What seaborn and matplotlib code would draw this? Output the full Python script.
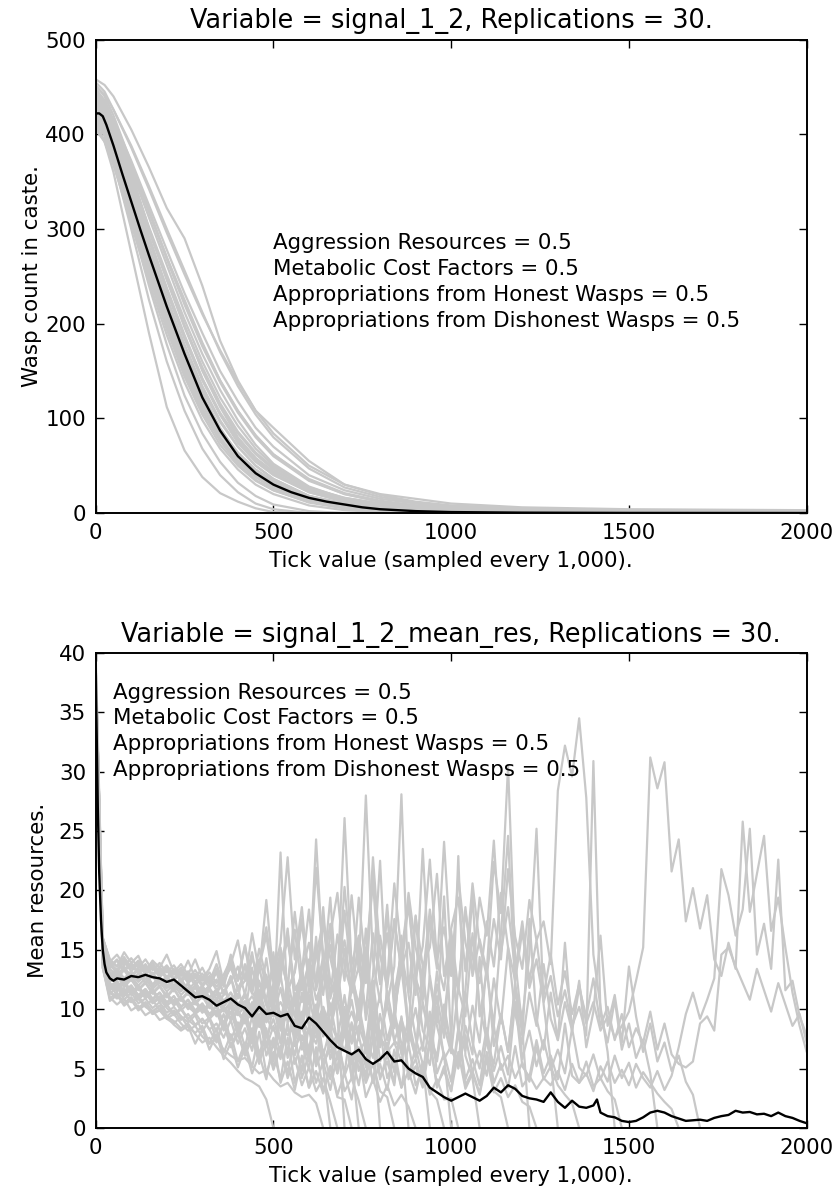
import matplotlib
matplotlib.use("Agg")
import matplotlib.pyplot as plt
import numpy as np
import pandas as pd
import seaborn as sns

# ---------------- top panel data: wasp count per replication ----------------
TOP_TICKS = [0, 25, 50, 100, 150, 200, 250, 300, 350, 400, 450, 500, 600, 700, 800, 900, 1000, 1200, 1500, 2000]

count_rep01 = [452, 440, 420, 370, 320, 270, 225, 180, 140, 108, 82, 62, 35, 20, 12, 8, 5, 3, 2, 1]
count_rep02 = [445, 432, 410, 360, 300, 248, 198, 150, 112, 80, 58, 42, 22, 12, 7, 4, 2, 1, 0, 0]
count_rep03 = [430, 418, 395, 340, 280, 225, 172, 126, 90, 62, 44, 30, 14, 6, 3, 1, 0, 0, 0, 0]
count_rep04 = [420, 404, 376, 308, 240, 178, 124, 84, 54, 32, 18, 9, 2, 0, 0, 0, 0, 0, 0, 0]
count_rep05 = [410, 392, 360, 275, 190, 112, 66, 38, 21, 12, 5, 1, 0, 0, 0, 0, 0, 0, 0, 0]
count_rep06 = [458, 452, 440, 405, 365, 322, 290, 240, 182, 140, 108, 90, 55, 30, 20, 15, 10, 6, 4, 3]
count_rep07 = [440, 428, 408, 362, 312, 262, 212, 168, 130, 98, 72, 52, 28, 15, 8, 5, 3, 1, 0, 0]
count_rep08 = [425, 412, 388, 332, 272, 215, 165, 122, 88, 62, 44, 32, 16, 8, 4, 2, 1, 0, 0, 0]
count_rep09 = [435, 420, 398, 348, 292, 238, 188, 142, 104, 74, 54, 40, 22, 12, 7, 4, 2, 1, 0, 0]
count_rep10 = [415, 400, 375, 315, 255, 200, 150, 108, 76, 52, 35, 24, 11, 5, 2, 1, 0, 0, 0, 0]
count_rep11 = [448, 436, 415, 372, 325, 278, 232, 190, 150, 118, 90, 70, 40, 24, 15, 10, 6, 3, 1, 0]
count_rep12 = [428, 414, 390, 335, 276, 222, 172, 130, 96, 70, 50, 36, 18, 9, 5, 3, 1, 0, 0, 0]
count_rep13 = [405, 392, 368, 310, 250, 196, 148, 108, 78, 55, 38, 26, 12, 5, 2, 1, 0, 0, 0, 0]
count_rep14 = [438, 425, 404, 356, 302, 252, 204, 160, 122, 92, 68, 50, 26, 14, 8, 5, 3, 1, 0, 0]
count_rep15 = [422, 408, 384, 326, 266, 210, 160, 118, 84, 60, 42, 30, 15, 7, 3, 1, 0, 0, 0, 0]
count_rep16 = [450, 442, 426, 388, 345, 300, 256, 212, 170, 134, 104, 80, 47, 27, 17, 11, 7, 4, 2, 1]
count_rep17 = [418, 402, 372, 300, 225, 160, 108, 68, 40, 22, 10, 4, 0, 0, 0, 0, 0, 0, 0, 0]
count_rep18 = [432, 418, 396, 344, 288, 234, 184, 140, 104, 76, 56, 42, 24, 14, 9, 6, 4, 2, 1, 0]
count_rep19 = [442, 430, 410, 366, 318, 270, 222, 178, 140, 108, 82, 62, 36, 21, 13, 8, 5, 2, 1, 0]
count_rep20 = [412, 398, 372, 312, 250, 194, 144, 104, 72, 50, 34, 24, 12, 6, 3, 2, 1, 0, 0, 0]
count_rep21 = [426, 412, 390, 338, 282, 228, 178, 134, 98, 70, 50, 36, 18, 10, 6, 4, 2, 1, 0, 0]
count_rep22 = [436, 424, 402, 352, 298, 246, 196, 152, 114, 84, 62, 46, 25, 14, 8, 5, 3, 1, 0, 0]
count_rep23 = [408, 394, 368, 306, 244, 188, 138, 98, 68, 46, 30, 20, 8, 3, 1, 0, 0, 0, 0, 0]
count_rep24 = [446, 434, 414, 368, 318, 268, 220, 176, 138, 106, 80, 60, 34, 20, 12, 7, 4, 2, 1, 0]
count_rep25 = [418, 404, 380, 322, 262, 206, 156, 114, 80, 56, 40, 28, 14, 7, 4, 2, 1, 0, 0, 0]
count_rep26 = [432, 420, 398, 346, 290, 236, 186, 142, 106, 78, 58, 44, 26, 16, 10, 7, 5, 3, 2, 1]
count_rep27 = [424, 410, 386, 330, 270, 214, 164, 122, 88, 64, 46, 34, 18, 10, 6, 4, 2, 1, 0, 0]
count_rep28 = [440, 426, 404, 354, 300, 248, 198, 154, 116, 86, 64, 48, 27, 16, 10, 6, 4, 2, 1, 0]
count_rep29 = [414, 400, 376, 318, 258, 202, 152, 110, 78, 55, 38, 27, 13, 6, 3, 2, 1, 0, 0, 0]
count_rep30 = [455, 445, 426, 386, 342, 296, 252, 210, 172, 138, 108, 84, 50, 30, 19, 12, 8, 5, 3, 2]

MEAN_COUNT_TICKS = [0, 10, 20, 30, 50, 75, 100, 125, 150, 175, 200, 250, 300, 350, 400, 450, 500,
                    550, 600, 650, 700, 750, 800, 900, 1000, 1200, 1500, 2000]
MEAN_COUNT = [422, 422, 419, 410, 388, 358, 329, 300, 272, 245, 218, 168, 122, 87, 60, 42, 30,
              22, 16, 12, 9, 6, 4, 2, 1, 0.4, 0.1, 0]

# ---------------- bottom panel data: mean resources per replication ----------------
RES_TICKS = list(range(0, 2001, 20))

res_rep01 = [37, 14, 11.5, 11, 11.8, 10.6, 10.9, 10.2, 9.8, 10.3, 9.4, 9, 8.4, 8.8, 7.9, 7.2, 7.6, 6.8, 6.1, 5.5, 4.8, 4.2, 3.9, 3.5, 2.4, 0]
res_rep02 = [38, 15, 12, 11.2, 10.5, 11, 10.1, 10.4, 9.6, 9.9, 9.2, 9.6, 8.8, 8.2, 8.6, 7.7, 7.1, 7.5, 6.6, 6.1, 5.7, 5.9, 5.2, 4.6, 4.9, 4.1, 3.5, 3.8, 3.0, 2.6, 2.8, 2.1, 0]
res_rep03 = [39, 15.5, 13, 12.6, 13.4, 12.8, 13.5, 12.2, 12.9, 12.4, 11.8, 12.5, 11.6, 12.1, 11, 11.7, 10.6, 11.3, 12.4, 10.2, 11.8, 9.6, 13.5, 10.4, 9.2, 14.8, 8.6, 11.9, 7.4, 9.8, 6.2, 8.4, 5.1, 0]
res_rep04 = [37, 14.5, 11.8, 12.3, 11.1, 11.7, 10.8, 11.4, 10.5, 10.9, 10.1, 9.5, 10, 9.1, 8.6, 9.2, 8.3, 7.2, 8.9, 6.8, 7.9, 6.1, 8.4, 5.6, 7.2, 4.9, 6.8, 4.2, 5.9, 3.6, 5.1, 3.1, 4.2, 2.2, 0]
res_rep05 = [40, 16, 14.2, 13.6, 14.8, 13.9, 14.5, 13.2, 14.1, 13.5, 14.6, 13.1, 13.8, 12.9, 14.2, 12.6, 13.4, 14.9, 12.2, 13.8, 15.8, 12.4, 16.4, 13.1, 19.2, 12.8, 15.6, 22.8, 14.2, 18.6, 11.9, 24.3, 13.5, 17.2, 9.4, 0]
res_rep06 = [36, 13.5, 11, 10.4, 10.9, 9.9, 10.3, 9.5, 9.9, 9.1, 9.4, 8.7, 8.2, 8.6, 7.1, 8.3, 6.6, 7.9, 5.8, 7.2, 5.1, 6.8, 4.6, 6.2, 4.1, 7.4, 3.8, 5.6, 3.2, 6.1, 3.4, 4.8, 2.9, 5.2, 2.6, 2.4, 0]
res_rep07 = [38, 15, 12.6, 13.1, 12.2, 12.9, 12.4, 13.2, 11.9, 12.6, 12.1, 11.5, 12.3, 11.2, 11.8, 10.9, 11.6, 10.4, 11.2, 12.8, 10.1, 11.4, 9.8, 13.6, 10.6, 9.4, 23.2, 10.2, 8.8, 12.6, 9.3, 16.1, 8.4, 10.5, 7.2, 8.6, 5.8, 0]
res_rep08 = [37, 14, 11.3, 11.9, 10.8, 11.4, 10.5, 10.9, 10.1, 10.6, 9.7, 10.2, 9.4, 8.9, 9.5, 8.1, 9.2, 7.4, 8.8, 6.9, 8.2, 6.1, 7.6, 5.4, 8.4, 5.1, 6.9, 4.6, 7.8, 4.2, 6.3, 3.8, 5.6, 3.2, 6.4, 3.1, 4.2, 2.3, 0]
res_rep09 = [39, 15.5, 13.4, 12.8, 13.6, 12.7, 13.3, 12.5, 13.1, 12.2, 12.8, 11.9, 12.6, 11.6, 12.3, 11.4, 12, 13.1, 11.2, 12.7, 10.9, 13.8, 11.4, 10.6, 14.3, 10.2, 12.6, 16.8, 10.4, 13.2, 18.4, 11.6, 14.4, 9.8, 12.2, 26.1, 13.5, 9.6, 15.2, 7.8, 0]
res_rep10 = [38, 14.5, 12.1, 11.6, 12.4, 11.3, 11.9, 11.1, 11.6, 10.8, 11.3, 10.5, 11, 10.2, 9.7, 10.4, 9.1, 10.6, 8.6, 9.8, 7.9, 10.2, 7.4, 9.1, 6.8, 10.6, 7.2, 8.4, 6.1, 9.2, 5.6, 8.8, 5.1, 7.4, 4.6, 9.6, 4.2, 6.8, 3.8, 5.4, 3.1, 2.6, 0]
res_rep11 = [39, 16, 14, 14.6, 13.7, 14.3, 13.5, 14.2, 13.3, 13.9, 13.1, 13.7, 12.8, 14.1, 12.6, 13.5, 12.3, 13.8, 12.1, 14.6, 12.4, 15.3, 11.8, 13.6, 16.2, 12.2, 14.8, 11.6, 13.2, 17.4, 12.1, 21.9, 14.6, 11.2, 16.3, 12.4, 19.6, 13.2, 28.0, 14.1, 10.6, 18.2, 9.8, 7.1, 0]
res_rep12 = [36, 13.5, 10.7, 11.2, 10.3, 10.8, 9.9, 10.4, 9.6, 10, 9.2, 8.8, 9.4, 8.5, 8, 8.6, 7.1, 8.4, 6.3, 7.9, 5.6, 7.2, 5.1, 8.1, 4.6, 6.4, 4.1, 7.6, 3.8, 5.9, 3.4, 6.8, 3.1, 5.2, 2.8, 4.6, 2.4, 6.2, 2.6, 4.1, 2.2, 3.6, 1.9, 2.8, 1.8, 0]
res_rep13 = [38, 15, 12.8, 13.3, 12.5, 13.1, 12.3, 12.9, 12, 12.6, 11.8, 12.4, 11.5, 12.1, 11.2, 11.9, 10.9, 11.6, 10.5, 11.4, 10.2, 11.1, 9.8, 12.4, 10.3, 9.4, 11.8, 8.9, 10.6, 13.2, 9.5, 8.6, 12.9, 19.4, 10.8, 8.2, 11.6, 15.4, 9.1, 12.8, 22.5, 10.4, 13.6, 28.1, 11.2, 7.6, 5.4, 0]
res_rep14 = [37, 14.5, 11.9, 12.4, 11.5, 12, 11.2, 11.7, 10.9, 11.4, 10.6, 11.1, 10.2, 10.8, 9.8, 10.3, 9.5, 9.9, 8.6, 10.4, 8.1, 9.6, 7.4, 10.8, 7.9, 6.8, 9.4, 6.2, 11.2, 6.6, 8.4, 5.4, 9.8, 5.8, 7.6, 4.6, 8.9, 4.8, 6.6, 3.9, 8.2, 4.2, 5.8, 3.4, 7.1, 3.6, 4.9, 3.1, 2.4, 0]
res_rep15 = [39, 15.5, 13.7, 13.1, 14, 13.2, 13.8, 12.9, 13.5, 12.7, 13.3, 12.4, 13.1, 12.2, 12.8, 11.9, 12.6, 11.6, 12.4, 13.5, 11.8, 12.9, 11.3, 14.2, 12.1, 10.9, 13.4, 15.8, 11.6, 12.8, 10.4, 14.6, 17.2, 12.3, 10.8, 15.1, 11.4, 13.6, 9.8, 16.4, 12.2, 18.8, 10.6, 13.4, 15.6, 11.2, 23.5, 12.4, 8.6, 6.2, 0]
res_rep16 = [37, 14, 11.4, 10.9, 11.6, 10.6, 11.1, 10.3, 10.8, 9.9, 10.4, 9.6, 10.1, 9.2, 9.7, 8.8, 9.3, 8.1, 9.6, 7.4, 8.9, 6.8, 9.4, 6.2, 8.1, 5.6, 9.8, 5.9, 7.4, 4.8, 8.6, 5.2, 6.6, 4.1, 7.8, 4.4, 6.1, 3.6, 7.2, 3.8, 5.4, 3.2, 6.6, 3.4, 4.8, 2.9, 5.6, 2.8, 4.1, 2.4, 2.5, 0]
res_rep17 = [38, 15, 12.5, 13, 12.2, 12.8, 12, 12.6, 11.7, 12.3, 11.5, 12.1, 11.2, 11.8, 10.9, 11.5, 10.6, 11.3, 10.2, 11, 9.9, 10.7, 9.5, 10.4, 12.6, 9.8, 8.9, 11.2, 9.4, 13.8, 8.6, 10.2, 7.9, 9.6, 12.4, 8.2, 10.8, 7.4, 14.6, 9.1, 6.8, 11.5, 8.4, 16.2, 7.6, 10.1, 6.5, 12.8, 8.9, 19.5, 7.2, 22.9, 6.1, 4.2, 0]
res_rep18 = [37, 14, 11.6, 12.1, 11.2, 11.8, 10.9, 11.5, 10.6, 11.1, 10.3, 10.8, 9.9, 10.5, 9.6, 10.1, 9.2, 9.8, 8.2, 10.4, 7.8, 9.2, 7.1, 10.6, 6.8, 8.6, 6.2, 11.4, 6.9, 7.8, 5.6, 9.6, 5.1, 7.2, 4.8, 10.2, 5.4, 6.6, 4.4, 8.8, 4.1, 6.2, 3.8, 9.4, 4.6, 5.8, 3.6, 7.6, 3.4, 5.2, 3.1, 8.2, 3.6, 4.8, 2.9, 6.4, 3.1, 2.6, 0]
res_rep19 = [39, 16, 14.1, 13.6, 14.4, 13.5, 14.1, 13.3, 13.9, 13.1, 13.7, 12.9, 13.5, 12.6, 13.3, 12.4, 13.1, 12.2, 12.9, 14.2, 12.4, 13.6, 11.9, 15.1, 12.6, 11.4, 14.3, 12.1, 16.7, 11.6, 13.9, 10.8, 12.6, 15.4, 11.2, 18.3, 12.8, 10.4, 14.6, 20.8, 12.1, 16.4, 11.3, 14.8, 19.2, 12.6, 10.8, 17.5, 13.4, 24.1, 14.2, 11.6, 18.6, 12.8, 15.9, 13.2, 22.4, 18.1, 30.5, 14.2, 8.4, 0]
res_rep20 = [36, 13.5, 10.9, 11.4, 10.5, 11, 10.1, 10.6, 9.8, 10.3, 9.4, 9.9, 9.1, 9.6, 8.7, 9.2, 8.3, 8.8, 7.6, 9.1, 7.1, 8.4, 6.5, 9.6, 6.1, 7.6, 5.8, 8.9, 5.4, 7.2, 4.9, 10.1, 5.6, 6.6, 4.6, 8.2, 4.2, 6.1, 3.9, 7.6, 4.3, 5.6, 3.6, 9.2, 4.1, 5.2, 3.4, 7.1, 3.7, 4.8, 3.1, 6.4, 3.3, 4.6, 2.8, 5.8, 3, 4.2, 2.6, 3.6, 2.2, 1.8, 0]
res_rep21 = [38, 15, 12.9, 13.4, 12.6, 13.2, 12.4, 13, 12.1, 12.7, 11.9, 12.5, 11.6, 12.2, 11.3, 12, 11, 11.7, 10.7, 11.4, 10.4, 11.2, 10, 11.6, 9.6, 10.8, 12.9, 9.2, 10.5, 8.8, 11.8, 9.6, 14.2, 8.4, 10.9, 7.9, 12.6, 9.1, 16.8, 8.6, 11.2, 7.4, 9.8, 13.5, 8.2, 17.9, 10.4, 7.6, 12.1, 9.3, 14.8, 8.1, 11.6, 19.6, 9.4, 13.2, 8.6, 16.4, 24.6, 11.8, 9.2, 14.6, 25.2, 10.4, 5.6, 0]
res_rep22 = [37, 14.5, 12.2, 11.7, 12.5, 11.4, 12, 11.1, 11.7, 10.8, 11.4, 10.5, 11.1, 10.2, 10.8, 9.9, 10.5, 9.6, 10.2, 9.3, 9.9, 9, 9.6, 8.6, 9.3, 8.2, 8.9, 7.8, 8.6, 7.4, 8.3, 7.1, 9.4, 6.8, 7.9, 6.5, 8.8, 6.2, 7.5, 5.9, 9.6, 6.4, 7.2, 5.6, 8.4, 6, 7, 5.3, 10.2, 5.8, 6.9, 5, 7.8, 4.7, 6.5, 4.4, 8.6, 4.9, 6.1, 4.2, 5.5, 3.9, 6.8, 4.1, 5.2, 3.6, 2.8, 2.1, 0]
res_rep23 = [39, 15.5, 13.5, 14.1, 13.2, 13.8, 13, 13.6, 12.8, 13.4, 12.5, 13.2, 12.3, 12.9, 12, 12.7, 11.8, 12.5, 11.5, 12.3, 13.6, 11.2, 14.4, 12.1, 10.8, 13.7, 15.2, 11.6, 13.1, 17.6, 12.4, 14.9, 11.2, 16.3, 19.8, 13.6, 11.4, 15.8, 12.2, 21.4, 14.6, 11.8, 17.2, 13.4, 18.9, 12.6, 15.3, 22.6, 14.1, 11.6, 16.8, 19.4, 13.2, 20.6, 15.4, 12.8, 17.6, 14.2, 21.8, 16.1, 13.4, 19.2, 15.8, 17.4, 13.8, 28.4, 32.2, 29.6, 34.5, 27.8, 14.6, 10.2, 6.4, 0]
res_rep24 = [38, 14.5, 12.3, 12.8, 11.9, 12.5, 11.6, 12.2, 11.3, 11.9, 11, 11.7, 10.7, 11.4, 10.4, 11.1, 10.1, 10.8, 9.8, 10.5, 9.5, 10.3, 9.2, 10, 8.9, 9.7, 8.6, 9.5, 8.3, 9.2, 8, 10.4, 7.7, 8.9, 7.4, 11.2, 7.1, 8.6, 6.8, 12.4, 7.6, 6.5, 9.4, 6.2, 8.2, 5.9, 13.6, 7.4, 5.6, 9.8, 6.6, 5.3, 11.4, 7.2, 5, 8.4, 4.8, 6.9, 4.5, 10.6, 5.2, 4.3, 7.4, 4.6, 6.1, 4.1, 8.8, 4.4, 3.8, 5.6, 3.5, 4.2, 3.1, 2.4, 0]
res_rep25 = [39, 16, 13.9, 13.3, 14.2, 13.4, 14, 13.1, 13.7, 12.9, 13.5, 12.6, 13.3, 12.4, 13, 12.1, 12.8, 11.9, 12.6, 13.9, 11.6, 12.4, 14.8, 11.3, 12.9, 10.8, 13.6, 16.4, 11.9, 10.6, 14.2, 12.1, 18.6, 10.9, 13.4, 15.8, 11.6, 19.4, 13.2, 10.8, 16.2, 12.4, 20.6, 14.8, 11.4, 17.8, 13.6, 15.2, 21.4, 12.8, 16.6, 11.6, 18.2, 14.4, 12.2, 17.4, 13.6, 19.8, 15.2, 12.4, 16.6, 11.8, 14.2, 10.6, 12.8, 9.4, 11.6, 8.6, 10.2, 7.8, 30.9, 9.6, 7.2, 10.8, 6.6, 8.8, 5.9, 7.4, 4.6, 0]
res_rep26 = [37, 14, 11.8, 12.3, 11.4, 12, 11.1, 11.7, 10.8, 11.4, 10.5, 11.1, 10.2, 10.8, 9.9, 10.5, 9.6, 10.2, 8.8, 10.6, 8.4, 9.8, 7.9, 10.9, 7.6, 9.2, 7.1, 11.6, 7.4, 8.6, 6.6, 10.2, 6.1, 8.4, 5.8, 9.6, 5.4, 7.8, 5.1, 10.8, 5.6, 7.2, 4.7, 8.9, 4.4, 6.8, 4.2, 9.8, 4.6, 6.3, 3.9, 8.4, 4.1, 5.8, 3.6, 7.6, 3.8, 5.4, 3.4, 6.9, 3.5, 4.4, 3.3, 4.2, 3.6, 4.8, 3.2, 5.4, 3.8, 4.6, 3.1, 5.2, 3.9, 6.1, 4.2, 5.5, 3.4, 4.7, 3.8, 2.9, 2.2, 1.6, 0]
res_rep27 = [38, 15, 13.1, 12.6, 13.3, 12.4, 13, 12.2, 12.8, 11.9, 12.5, 11.7, 12.3, 11.4, 12, 11.2, 11.8, 10.9, 11.6, 10.6, 11.3, 10.3, 11.1, 10, 12.2, 9.7, 10.6, 9.4, 11.4, 9.1, 13.2, 8.8, 10.2, 8.5, 12.6, 8.2, 9.8, 7.9, 14.1, 8.4, 7.6, 10.4, 7.3, 9.2, 7.1, 12.8, 8.2, 6.8, 11.1, 7.6, 16.2, 8.4, 6.5, 10.3, 7.2, 13.8, 6.9, 9.6, 6.4, 12.2, 7.8, 17.6, 9.2, 6.6, 11.4, 7.4, 15.6, 8.2, 12.4, 6.8, 9.8, 16.2, 8.6, 11.2, 7.2, 13.6, 9.4, 6.4, 8.8, 5.6, 7.2, 4.8, 6.1, 3.9, 2.8, 0]
res_rep28 = [39, 15.5, 13.6, 14.2, 13.3, 13.9, 13.1, 13.8, 12.9, 13.6, 12.7, 13.4, 12.5, 13.2, 12.3, 13, 12.1, 13.4, 11.9, 14.1, 12.6,
             15.4, 12.1, 13.8, 16.9, 12.4, 14.6, 11.8, 18.2, 13.1, 15.6, 12.2, 17.4, 14.3, 11.6, 20.3, 13.8, 16.2, 12.4, 22.8, 14.6,
             12.1, 17.6, 13.4, 19.8, 15.2, 12.6, 18.4, 14.1, 16.9, 12.8, 21.2, 15.6, 13.1, 19.4, 16.2, 24.2, 14.8, 18.6, 13.2, 17.4,
             12.4, 15.8, 11.2, 14.6, 10.4, 13.2, 9.6, 12.1, 8.8, 10.6, 8.2, 9.4, 7.6, 8.6, 9.8, 12.4, 15.2, 31.2, 28.6, 30.8,
             21.6, 24.3, 17.4, 20.2, 16.8, 19.6, 14.2, 12.8, 15.6, 13.4, 25.8, 18.2, 21.4, 24.6, 16.6, 19.4, 15.2, 11.4, 8.6, 6.4]
res_rep29 = [38, 14.5, 12.4, 12.9, 12, 12.6, 11.7, 12.3, 11.4, 12, 11.1, 11.8, 10.8, 11.5, 10.5, 11.2, 10.2, 10.9, 9.9, 10.6, 9.6,
             10.3, 9.3, 11.4, 9, 10.2, 8.7, 12.6, 9.4, 8.4, 11.2, 8.1, 9.6, 7.8, 13.4, 8.6, 7.5, 10.4, 7.2, 9.8, 6.9,
             11.6, 7.4, 6.6, 9.2, 6.3, 12.8, 7.8, 6, 10.4, 6.8, 5.7, 8.6, 6.2, 14.4, 7.1, 5.4, 9.6, 6.4, 11.8, 5.8,
             8.2, 5.2, 7.4, 4.9, 6.6, 4.6, 8.4, 5.1, 4.4, 6.2, 4.1, 5.6, 3.8, 4.9, 3.6, 5.4, 4.2, 3.4, 4.8, 3.2,
             4.4, 6.8, 9.6, 11.4, 9.2, 10.8, 12.6, 21.8, 19.6, 16.2, 18.4, 25.2, 14.6, 17.2, 13.4, 22.6, 11.6, 12.4, 9.4, 7.8]
res_rep30 = [37, 14, 12, 11.5, 12.2, 11.2, 11.8, 10.9, 11.5, 10.6, 11.2, 10.3, 10.9, 10, 10.6, 9.7, 10.3, 9.4, 10, 9.1, 9.7,
             8.8, 10.6, 8.5, 9.4, 12.2, 8.2, 9.8, 7.9, 11.4, 8.6, 7.6, 10.2, 7.4, 12.8, 8.8, 7.2, 9.6, 6.9, 11.4, 7.6,
             6.7, 9.2, 14.6, 8.4, 6.5, 10.6, 7.8, 13.2, 8.6, 6.3, 11.8, 9.4, 16.4, 10.2, 7.4, 12.6, 8.8, 15.2, 9.6, 7.1,
             11.4, 8.6, 13.8, 9.2, 7.4, 10.6, 8.2, 11.8, 9.4, 12.6, 8.6, 10.2, 7.4, 9.6, 6.8, 8.4, 7.2, 9.8, 6.6, 8.8,
             6.2, 5.4, 5.1, 5.6, 8.8, 9.4, 8.2, 14.6, 15.2, 13.6, 12.2, 10.8, 13.4, 11.6, 9.8, 12.2, 10.4, 8.6, 9.6, 7.2]

MEAN_RES_TICKS = [0, 3, 6, 10, 15, 20, 25, 30, 40, 50, 60, 80, 100, 120, 140, 160, 180, 200, 220, 240, 260, 280,
                  300, 320, 340, 360, 380, 400, 420, 440, 460, 480, 500, 520, 540, 560, 580, 600, 620, 640, 660,
                  680, 700, 720, 740, 760, 780, 800, 820, 840, 860, 880, 900, 920, 940, 960, 980, 1000, 1020,
                  1040, 1060, 1080, 1100, 1120, 1140, 1160, 1180, 1200, 1220, 1240, 1260, 1280, 1300, 1320, 1340,
                  1360, 1380, 1400, 1410, 1420, 1440, 1460, 1480, 1500, 1520, 1540, 1560, 1580, 1600, 1620, 1640,
                  1660, 1680, 1700, 1720, 1740, 1760, 1780, 1800, 1820, 1840, 1860, 1880, 1900, 1920, 1940, 1960,
                  1980, 2000]
MEAN_RES = [38.5, 33, 27, 21.5, 17.5, 15, 13.8, 13.1, 12.6, 12.4, 12.6, 12.5, 12.8, 12.7, 12.9, 12.7, 12.6, 12.3,
            12.5, 12.0, 11.5, 11.0, 11.1, 10.8, 10.3, 10.6, 10.9, 10.4, 10.1, 9.4, 10.2, 9.6, 9.7, 9.4, 9.6, 8.6,
            8.4, 9.3, 8.8, 8.1, 7.4, 6.8, 6.5, 6.2, 6.6, 5.8, 5.4, 5.8, 6.4, 5.6, 5.7, 5.0, 4.6, 4.3, 3.4, 3.0,
            2.6, 2.3, 2.6, 2.9, 2.6, 2.3, 2.7, 3.4, 3.0, 3.6, 3.3, 2.7, 2.5, 2.4, 2.2, 3.0, 2.2, 1.7, 2.3, 1.8,
            1.7, 1.9, 2.4, 1.3, 1.0, 0.9, 0.6, 0.5, 0.6, 0.9, 1.3, 1.45, 1.3, 1.0, 0.8, 0.6, 0.65, 0.7, 0.6, 0.85,
            1.0, 1.1, 1.45, 1.3, 1.35, 1.15, 1.2, 1.0, 1.3, 1.0, 0.85, 0.6, 0.4]

PARAM_TEXT = ["Aggression Resources = 0.5", "Metabolic Cost Factors = 0.5",
              "Appropriations from Honest Wasps = 0.5", "Appropriations from Dishonest Wasps = 0.5"]
TOP_TITLE = "Variable = signal_1_2, Replications = 30."
BOTTOM_TITLE = "Variable = signal_1_2_mean_res, Replications = 30."
X_LABEL = "Tick value (sampled every 1,000)."
TOP_YLABEL = "Wasp count in caste."
BOTTOM_YLABEL = "Mean resources."

# ---------------- assemble ----------------
count_reps = [count_rep01, count_rep02, count_rep03, count_rep04, count_rep05, count_rep06, count_rep07,
              count_rep08, count_rep09, count_rep10, count_rep11, count_rep12, count_rep13, count_rep14,
              count_rep15, count_rep16, count_rep17, count_rep18, count_rep19, count_rep20, count_rep21,
              count_rep22, count_rep23, count_rep24, count_rep25, count_rep26, count_rep27, count_rep28,
              count_rep29, count_rep30]
res_reps = [res_rep01, res_rep02, res_rep03, res_rep04, res_rep05, res_rep06, res_rep07, res_rep08, res_rep09,
            res_rep10, res_rep11, res_rep12, res_rep13, res_rep14, res_rep15, res_rep16, res_rep17, res_rep18,
            res_rep19, res_rep20, res_rep21, res_rep22, res_rep23, res_rep24, res_rep25, res_rep26, res_rep27,
            res_rep28, res_rep29, res_rep30]
for r in count_reps:
    assert len(r) == len(TOP_TICKS), len(r)
for r in res_reps:
    assert len(r) <= len(RES_TICKS), len(r)
assert len(MEAN_COUNT) == len(MEAN_COUNT_TICKS)
assert len(MEAN_RES) == len(MEAN_RES_TICKS), (len(MEAN_RES), len(MEAN_RES_TICKS))

df_count = pd.concat([pd.DataFrame({"tick": TOP_TICKS, "value": r, "rep": i})
                      for i, r in enumerate(count_reps)], ignore_index=True)
df_res = pd.concat([pd.DataFrame({"tick": RES_TICKS[:len(r)], "value": r, "rep": i})
                    for i, r in enumerate(res_reps)], ignore_index=True)

sns.set_style("white")
plt.rcParams.update({
    "font.family": ["DejaVu Sans"],
    "font.size": 15.4,
    "text.color": "black",
    "axes.labelcolor": "black",
    "axes.titlecolor": "black",
    "axes.linewidth": 1.4,
    "axes.edgecolor": "black",
    "xtick.direction": "in", "ytick.direction": "in",
    "xtick.top": True, "ytick.right": True,
    "xtick.bottom": True, "ytick.left": True,
    "xtick.major.size": 6, "ytick.major.size": 6,
    "xtick.major.width": 1.0, "ytick.major.width": 1.0,
    "xtick.major.pad": 7, "ytick.major.pad": 7,
    "xtick.color": "black", "ytick.color": "black",
    "xtick.labelcolor": "black", "ytick.labelcolor": "black",
    "xtick.labelsize": 15.4, "ytick.labelsize": 15.4,
})

GREY = "#c8c8c8"
fig = plt.figure(figsize=(8.37, 11.87), dpi=100, facecolor="white")
ax1 = fig.add_axes([0.1143, 0.5678, 0.8495, 0.3989])
ax2 = fig.add_axes([0.1143, 0.0497, 0.8495, 0.4002])

sns.lineplot(data=df_count, x="tick", y="value", units="rep", estimator=None, color=GREY,
             linewidth=1.6, ax=ax1, legend=False)
sns.lineplot(x=MEAN_COUNT_TICKS, y=MEAN_COUNT, color="black", linewidth=1.7, ax=ax1)
sns.lineplot(data=df_res, x="tick", y="value", units="rep", estimator=None, color=GREY,
             linewidth=1.6, ax=ax2, legend=False)
sns.lineplot(x=MEAN_RES_TICKS, y=MEAN_RES, color="black", linewidth=1.7, ax=ax2)

ax1.set_xlim(0, 2000)
ax1.set_ylim(0, 500)
ax1.set_xticks([0, 500, 1000, 1500, 2000])
ax1.set_yticks([0, 100, 200, 300, 400, 500])
ax2.set_xlim(0, 2000)
ax2.set_ylim(0, 40)
ax2.set_xticks([0, 500, 1000, 1500, 2000])
ax2.set_yticks([0, 5, 10, 15, 20, 25, 30, 35, 40])

for ax, title, ylab, lpad in [(ax1, TOP_TITLE, TOP_YLABEL, 2.5), (ax2, BOTTOM_TITLE, BOTTOM_YLABEL, 8)]:
    ax.set_title(title, fontsize=18.4, pad=8, color="black")
    ax.set_xlabel(X_LABEL, fontsize=15.4, labelpad=6, color="black")
    ax.set_ylabel(ylab, fontsize=15.4, labelpad=lpad, color="black")
    for s in ax.spines.values():
        s.set_visible(True)
        s.set_color("black")
        s.set_linewidth(1.4)

ax1.text(500, 244, "\n".join(PARAM_TEXT), fontsize=15.4, va="center", ha="left", linespacing=1.36, color="black")
ax2.text(50, 33.4, "\n".join(PARAM_TEXT), fontsize=15.4, va="center", ha="left", linespacing=1.36, color="black")

fig.savefig("out.png", dpi=100, facecolor="white")
